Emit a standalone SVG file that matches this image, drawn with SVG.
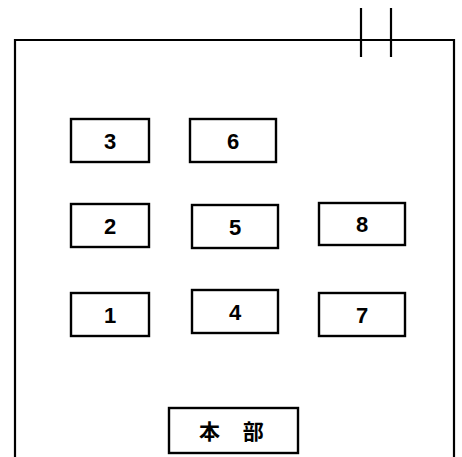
<svg xmlns="http://www.w3.org/2000/svg" width="462" height="457" viewBox="0 0 462 457">
<style>
.box{fill:#fff;stroke:#000;stroke-width:2.4}
.lbl{font-family:"Liberation Sans",Arial,sans-serif;font-weight:bold;font-size:22px;text-anchor:middle;fill:#000}
.cjk{font-family:"Noto Sans CJK JP",sans-serif;font-weight:bold;font-size:21px;fill:#000}
.ln{stroke:#000;stroke-width:2.2;fill:none}
</style>
<rect width="462" height="457" fill="#fff"/>
<g id="connectors">
<path class="ln" d="M15,457 V40 H454 V457"/>
<line class="ln" x1="361" y1="8" x2="361" y2="57" stroke-width="2.8"/>
<line class="ln" x1="391" y1="8" x2="391" y2="57" stroke-width="2.8"/>
</g>
<g id="n3"><rect class="box" x="71" y="119" width="78" height="43"/><text class="lbl" x="110" y="149">3</text></g>
<g id="n6"><rect class="box" x="190" y="119" width="86" height="43"/><text class="lbl" x="233" y="149">6</text></g>
<g id="n2"><rect class="box" x="71" y="204" width="78" height="43"/><text class="lbl" x="110" y="234">2</text></g>
<g id="n5"><rect class="box" x="192" y="205" width="86" height="43"/><text class="lbl" x="235" y="235">5</text></g>
<g id="n8"><rect class="box" x="319" y="203" width="86" height="42"/><text class="lbl" x="362" y="232">8</text></g>
<g id="n1"><rect class="box" x="71" y="293" width="78" height="43"/><text class="lbl" x="110" y="323">1</text></g>
<g id="n4"><rect class="box" x="192" y="290" width="86" height="43"/><text class="lbl" x="235" y="320">4</text></g>
<g id="n7"><rect class="box" x="319" y="293" width="86" height="43"/><text class="lbl" x="362" y="323">7</text></g>
<g id="honbu"><rect class="box" x="169" y="408" width="129" height="45"/><text class="cjk" x="199" y="439" letter-spacing="9">本 部</text></g>
</svg>
